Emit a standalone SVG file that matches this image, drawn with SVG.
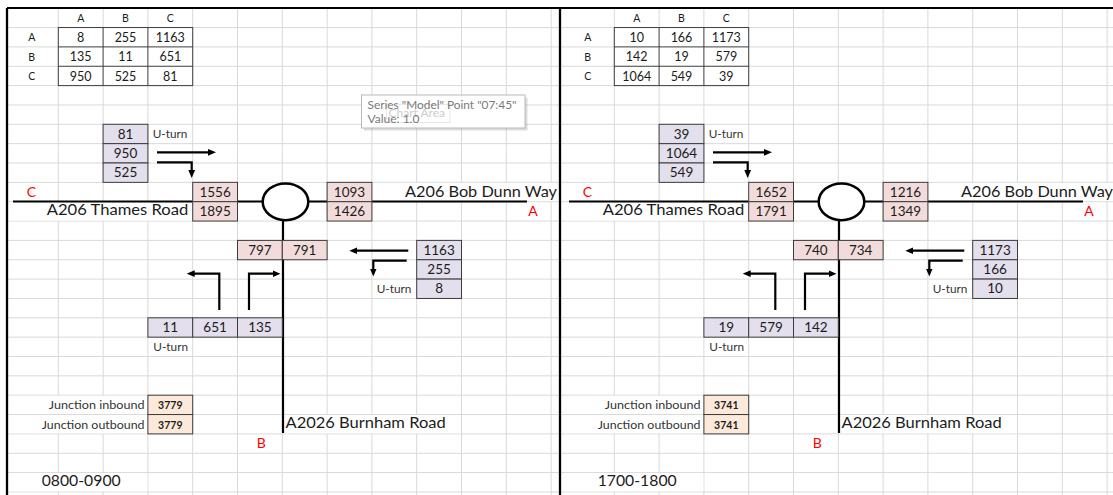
<svg xmlns="http://www.w3.org/2000/svg" width="1113" height="495" viewBox="0 0 1113 495">
<style>
text{font-family:Lato,"Liberation Sans",sans-serif;}
.g{stroke:#d9d9d9;stroke-width:1;fill:none}
.hide{fill:#fff}
.bp{fill:#e4dfec;stroke:#3c3c3c;stroke-width:1}
.br{fill:#f2dcdb;stroke:#3c3c3c;stroke-width:1}
.bo{fill:#fde9d9;stroke:#3c3c3c;stroke-width:1}
.bw{fill:#fff;stroke:#3c3c3c;stroke-width:1}
.n{font-size:13.5px;text-anchor:middle;fill:#1c1c1c}
.tn{font-size:12.5px;text-anchor:middle;fill:#1c1c1c}
.hd{font-size:10.5px;text-anchor:middle;fill:#1c1c1c}
.sm{font-size:11.5px;fill:#333}
.smr{font-size:11.5px;fill:#333;text-anchor:end}
.jn{font-size:10.5px;font-weight:bold;text-anchor:middle;fill:#1c1c1c}
.road{font-size:15px;fill:#1c1c1c}
.red{font-size:14px;fill:#ff0000}
.per{font-size:15px;fill:#1c1c1c}
.rd{stroke:#000;stroke-width:2.2;fill:none}
.ar{stroke:#000;stroke-width:2.2;fill:none;marker-end:url(#ah)}
.rb{fill:#fff;stroke:#000;stroke-width:2.5}
.tt{font-size:12px;fill:#7a7a7a}
</style>
<defs>
<marker id="ah" viewBox="0 0 8 8" refX="3" refY="4" markerWidth="8" markerHeight="8" markerUnits="userSpaceOnUse" orient="auto">
<path d="M0,0.6 L8,4 L0,7.4 z" fill="#000"/>
</marker>
<g id="gridv">
<path class="g" d="M58.3,8V495M103.1,8V495M147.9,8V495M192.7,8V495M237.5,8V495M282.3,8V495M327.1,8V495M371.9,8V495M416.7,8V495M461.5,8V495M506.3,8V495M551.1,8V495"/>
</g>
<g id="hides">
<rect class="hide" x="8.5" y="202.3" width="183.7" height="18.2"/>
<rect class="hide" x="372.4" y="182.9" width="190" height="18.2"/>
<rect class="hide" x="8.5" y="395.8" width="138.9" height="18.2"/>
<rect class="hide" x="8.5" y="415.1" width="138.9" height="18.2"/>
<rect class="hide" x="282.8" y="415.1" width="178.2" height="18.2"/>
<rect class="hide" x="8.5" y="473.2" width="138.9" height="18.2"/>
</g>
</defs>
<rect x="0" y="0" width="1113" height="495" fill="#fff"/>
<g id="grid">
<path class="g" d="M7,27.55H1113M7,46.9H1113M7,66.25H1113M7,85.6H1113M7,104.95H1113M7,124.3H1113M7,143.65H1113M7,163H1113M7,182.35H1113M7,201.7H1113M7,221.05H1113M7,240.4H1113M7,259.75H1113M7,279.1H1113M7,298.45H1113M7,317.8H1113M7,337.15H1113M7,356.5H1113M7,375.85H1113M7,395.2H1113M7,414.55H1113M7,433.9H1113M7,453.25H1113M7,472.6H1113M7,491.95H1113"/>
<use href="#gridv"/>
<use href="#gridv" transform="translate(556,0)"/>
<use href="#hides"/>
<g transform="translate(556,0)"><use href="#hides"/></g>
<path d="M7,8V495M560,8V495" stroke="#000" stroke-width="2.3"/>
<path d="M7,8H1113" stroke="#000" stroke-width="2"/>
</g>
<g id="connectors">
<g id="c-left">
<path class="rd" d="M13,201.5H527"/>
<path class="rd" d="M283,215V433"/>
<path class="ar" d="M157,152.3H211"/>
<path class="ar" d="M157,162.3H191.7V173"/>
<path class="ar" d="M408.3,250.7H354.3"/>
<path class="ar" d="M406.7,260.7H373.3V271.5"/>
<path class="ar" d="M219.3,310V273.7H191.7"/>
<path class="ar" d="M249,310V273.7H275.5"/>
</g>
<g id="c-right" transform="translate(556,0)">
<path class="rd" d="M13,201.5H527"/>
<path class="rd" d="M283,215V433"/>
<path class="ar" d="M157,152.3H211"/>
<path class="ar" d="M157,162.3H191.7V173"/>
<path class="ar" d="M408.3,250.7H354.3"/>
<path class="ar" d="M406.7,260.7H373.3V271.5"/>
<path class="ar" d="M219.3,310V273.7H191.7"/>
<path class="ar" d="M249,310V273.7H275.5"/>
</g>
</g>
<g id="l-table">
<text class="hd" x="80.7" y="21.9">A</text><text class="hd" x="125.5" y="21.9">B</text><text class="hd" x="170.3" y="21.9">C</text>
<text class="hd" x="31.7" y="41.2">A</text><text class="hd" x="31.7" y="60.6">B</text><text class="hd" x="31.7" y="79.9">C</text>
<rect class="bw" x="58.3" y="27.55" width="134.4" height="58.05"/>
<path d="M103.1,27.55V85.6M147.9,27.55V85.6M58.3,46.9H192.7M58.3,66.25H192.7" stroke="#3c3c3c" stroke-width="1"/>
<text class="tn" x="80.7" y="41.8">8</text><text class="tn" x="125.5" y="41.8">255</text><text class="tn" x="170.3" y="41.8">1163</text>
<text class="tn" x="80.7" y="61.2">135</text><text class="tn" x="125.5" y="61.2">11</text><text class="tn" x="170.3" y="61.2">651</text>
<text class="tn" x="80.7" y="80.5">950</text><text class="tn" x="125.5" y="80.5">525</text><text class="tn" x="170.3" y="80.5">81</text>
</g>
<g id="l-approach-c">
<rect class="bp" x="103.1" y="124.3" width="44.8" height="19.35"/><rect class="bp" x="103.1" y="143.65" width="44.8" height="19.35"/><rect class="bp" x="103.1" y="163" width="44.8" height="19.35"/>
<text class="n" x="125.5" y="138.6">81</text><text class="n" x="125.5" y="157.95">950</text><text class="n" x="125.5" y="177.3">525</text>
<text class="sm" x="152.7" y="137.7" textLength="34.7" lengthAdjust="spacingAndGlyphs">U-turn</text>
</g>
<g id="l-arm-c">
<rect class="br" x="192.7" y="182.35" width="44.8" height="19.35"/><rect class="br" x="192.7" y="201.7" width="44.8" height="19.35"/>
<text class="n" x="215.1" y="196.65">1556</text><text class="n" x="215.1" y="216">1895</text>
<text class="red" x="26.7" y="196.7">C</text>
<text class="road" x="46.7" y="215" textLength="141.6" lengthAdjust="spacingAndGlyphs">A206 Thames Road</text>
</g>
<g id="l-arm-a">
<rect class="br" x="327.1" y="182.35" width="44.8" height="19.35"/><rect class="br" x="327.1" y="201.7" width="44.8" height="19.35"/>
<text class="n" x="349.5" y="196.65">1093</text><text class="n" x="349.5" y="216">1426</text>
<text class="road" x="405" y="196.5" textLength="152" lengthAdjust="spacingAndGlyphs">A206 Bob Dunn Way</text>
<text class="red" x="528.3" y="216">A</text>
</g>
<g id="l-arm-b">
<rect class="br" x="237.5" y="240.4" width="44.8" height="19.35"/><rect class="br" x="282.3" y="240.4" width="44.8" height="19.35"/>
<text class="n" x="259.9" y="254.7">797</text><text class="n" x="304.7" y="254.7">791</text>
</g>
<g id="l-approach-a">
<rect class="bp" x="416.7" y="240.4" width="44.8" height="19.35"/><rect class="bp" x="416.7" y="259.75" width="44.8" height="19.35"/><rect class="bp" x="416.7" y="279.1" width="44.8" height="19.35"/>
<text class="n" x="439.1" y="254.7">1163</text><text class="n" x="439.1" y="274.05">255</text><text class="n" x="439.1" y="293.4">8</text>
<text class="sm" x="376.7" y="293.3" textLength="34.7" lengthAdjust="spacingAndGlyphs">U-turn</text>
</g>
<g id="l-approach-b">
<rect class="bp" x="147.9" y="317.8" width="44.8" height="19.35"/><rect class="bp" x="192.7" y="317.8" width="44.8" height="19.35"/><rect class="bp" x="237.5" y="317.8" width="44.8" height="19.35"/>
<text class="n" x="170.3" y="332.1">11</text><text class="n" x="215.1" y="332.1">651</text><text class="n" x="259.9" y="332.1">135</text>
<text class="sm" x="153.3" y="351" textLength="34.7" lengthAdjust="spacingAndGlyphs">U-turn</text>
</g>
<g id="l-roundabout">
<ellipse class="rb" cx="285.5" cy="201.8" rx="22.8" ry="18.4"/>
</g>
<g id="l-road-b">
<text class="road" x="285.5" y="428.3" textLength="160.2" lengthAdjust="spacingAndGlyphs">A2026 Burnham Road</text>
<text class="red" x="256.7" y="448.3">B</text>
</g>
<g id="l-totals">
<text class="smr" x="144.5" y="409.2" textLength="95.7" lengthAdjust="spacingAndGlyphs">Junction inbound</text><text class="smr" x="144.5" y="428.5" textLength="102.7" lengthAdjust="spacingAndGlyphs">Junction outbound</text>
<rect class="bo" x="147.9" y="395.2" width="44.8" height="19.35"/><rect class="bo" x="147.9" y="414.55" width="44.8" height="19.35"/>
<text class="jn" x="170.3" y="409.2">3779</text><text class="jn" x="170.3" y="428.5">3779</text>
</g>
<g id="l-period">
<text class="per" x="41.7" y="486" textLength="79" lengthAdjust="spacingAndGlyphs">0800-0900</text>
</g>

<g id="r-table" transform="translate(556,0)">
<text class="hd" x="80.7" y="21.9">A</text><text class="hd" x="125.5" y="21.9">B</text><text class="hd" x="170.3" y="21.9">C</text>
<text class="hd" x="31.7" y="41.2">A</text><text class="hd" x="31.7" y="60.6">B</text><text class="hd" x="31.7" y="79.9">C</text>
<rect class="bw" x="58.3" y="27.55" width="134.4" height="58.05"/>
<path d="M103.1,27.55V85.6M147.9,27.55V85.6M58.3,46.9H192.7M58.3,66.25H192.7" stroke="#3c3c3c" stroke-width="1"/>
<text class="tn" x="80.7" y="41.8">10</text><text class="tn" x="125.5" y="41.8">166</text><text class="tn" x="170.3" y="41.8">1173</text>
<text class="tn" x="80.7" y="61.2">142</text><text class="tn" x="125.5" y="61.2">19</text><text class="tn" x="170.3" y="61.2">579</text>
<text class="tn" x="80.7" y="80.5">1064</text><text class="tn" x="125.5" y="80.5">549</text><text class="tn" x="170.3" y="80.5">39</text>
</g>
<g id="r-approach-c" transform="translate(556,0)">
<rect class="bp" x="103.1" y="124.3" width="44.8" height="19.35"/><rect class="bp" x="103.1" y="143.65" width="44.8" height="19.35"/><rect class="bp" x="103.1" y="163" width="44.8" height="19.35"/>
<text class="n" x="125.5" y="138.6">39</text><text class="n" x="125.5" y="157.95">1064</text><text class="n" x="125.5" y="177.3">549</text>
<text class="sm" x="152.7" y="137.7" textLength="34.7" lengthAdjust="spacingAndGlyphs">U-turn</text>
</g>
<g id="r-arm-c" transform="translate(556,0)">
<rect class="br" x="192.7" y="182.35" width="44.8" height="19.35"/><rect class="br" x="192.7" y="201.7" width="44.8" height="19.35"/>
<text class="n" x="215.1" y="196.65">1652</text><text class="n" x="215.1" y="216">1791</text>
<text class="red" x="26.7" y="196.7">C</text>
<text class="road" x="46.7" y="215" textLength="141.6" lengthAdjust="spacingAndGlyphs">A206 Thames Road</text>
</g>
<g id="r-arm-a" transform="translate(556,0)">
<rect class="br" x="327.1" y="182.35" width="44.8" height="19.35"/><rect class="br" x="327.1" y="201.7" width="44.8" height="19.35"/>
<text class="n" x="349.5" y="196.65">1216</text><text class="n" x="349.5" y="216">1349</text>
<text class="road" x="405" y="196.5" textLength="152" lengthAdjust="spacingAndGlyphs">A206 Bob Dunn Way</text>
<text class="red" x="528.3" y="216">A</text>
</g>
<g id="r-arm-b" transform="translate(556,0)">
<rect class="br" x="237.5" y="240.4" width="44.8" height="19.35"/><rect class="br" x="282.3" y="240.4" width="44.8" height="19.35"/>
<text class="n" x="259.9" y="254.7">740</text><text class="n" x="304.7" y="254.7">734</text>
</g>
<g id="r-approach-a" transform="translate(556,0)">
<rect class="bp" x="416.7" y="240.4" width="44.8" height="19.35"/><rect class="bp" x="416.7" y="259.75" width="44.8" height="19.35"/><rect class="bp" x="416.7" y="279.1" width="44.8" height="19.35"/>
<text class="n" x="439.1" y="254.7">1173</text><text class="n" x="439.1" y="274.05">166</text><text class="n" x="439.1" y="293.4">10</text>
<text class="sm" x="376.7" y="293.3" textLength="34.7" lengthAdjust="spacingAndGlyphs">U-turn</text>
</g>
<g id="r-approach-b" transform="translate(556,0)">
<rect class="bp" x="147.9" y="317.8" width="44.8" height="19.35"/><rect class="bp" x="192.7" y="317.8" width="44.8" height="19.35"/><rect class="bp" x="237.5" y="317.8" width="44.8" height="19.35"/>
<text class="n" x="170.3" y="332.1">19</text><text class="n" x="215.1" y="332.1">579</text><text class="n" x="259.9" y="332.1">142</text>
<text class="sm" x="153.3" y="351" textLength="34.7" lengthAdjust="spacingAndGlyphs">U-turn</text>
</g>
<g id="r-roundabout" transform="translate(556,0)">
<ellipse class="rb" cx="285.5" cy="201.8" rx="22.8" ry="18.4"/>
</g>
<g id="r-road-b" transform="translate(556,0)">
<text class="road" x="285.5" y="428.3" textLength="160.2" lengthAdjust="spacingAndGlyphs">A2026 Burnham Road</text>
<text class="red" x="256.7" y="448.3">B</text>
</g>
<g id="r-totals" transform="translate(556,0)">
<text class="smr" x="144.5" y="409.2" textLength="95.7" lengthAdjust="spacingAndGlyphs">Junction inbound</text><text class="smr" x="144.5" y="428.5" textLength="102.7" lengthAdjust="spacingAndGlyphs">Junction outbound</text>
<rect class="bo" x="147.9" y="395.2" width="44.8" height="19.35"/><rect class="bo" x="147.9" y="414.55" width="44.8" height="19.35"/>
<text class="jn" x="170.3" y="409.2">3741</text><text class="jn" x="170.3" y="428.5">3741</text>
</g>
<g id="r-period" transform="translate(556,0)">
<text class="per" x="41.7" y="486" textLength="79" lengthAdjust="spacingAndGlyphs">1700-1800</text>
</g>

<g id="tooltip">
<rect x="364" y="97.5" width="163.5" height="33" fill="#9a9a9a" opacity="0.35"/>
<rect x="361.5" y="95" width="163.5" height="33" fill="#fff" stroke="#b9b9b9" stroke-width="1"/>
<rect x="386.5" y="104.5" width="63.5" height="18" fill="#fff" fill-opacity="0.6" stroke="#e6e6e6" stroke-width="1"/>
<text class="tt" x="388.5" y="117" style="fill:#cdcdcd">Chart Area</text>
<text class="tt" x="367.5" y="109.3" textLength="149" lengthAdjust="spacingAndGlyphs">Series "Model" Point "07:45"</text>
<text class="tt" x="367.5" y="123.3">Value: 1.0</text>
</g>
</svg>
